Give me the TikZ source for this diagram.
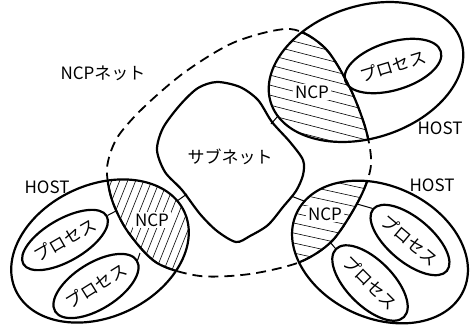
\documentclass[tikz,border=0pt]{standalone}
\usepackage{fontspec}
\newfontfamily\jpfont{Noto Sans CJK JP}
\usetikzlibrary{shapes.geometric}

\tikzset{
  contorno/.style={line width=1.1pt},
  tracejado/.style={line width=0.9pt,dash pattern=on 5pt off 3pt},
  hachura/.style={line width=0.3pt},
  ligacao/.style={line width=0.5pt},
  rotulo/.style={font=\jpfont\fontsize{8.5pt}{10pt}\selectfont,inner sep=1pt},
  processo/.style={rotulo,draw,contorno,ellipse,inner sep=0pt},
  %posicao dos hosts
  hosta/.style={shift={(366,72)},rotate=18},
  hostb/.style={shift={(100,251)},rotate=25},
  hostc/.style={shift={(380,252)},rotate=-25},
}

%contorno da rede NCP
\newcommand{\redencp}{plot[smooth cycle] coordinates {(290,29) (325,48) (350,88) (366,130) (371,165) (360,198) (333,240) (300,262) (250,274) (200,276) (157,263) (128,232) (112,200) (107,168) (117,138) (143,108) (185,72) (235,42)}}

\begin{document}
\begin{tikzpicture}[x=0.5pt,y=-0.5pt]
  \useasboundingbox (0,0) rectangle (472,327);

  %hachuras dos NCP
  \begin{scope}
    \clip[hosta] (0,0) ellipse [x radius=100,y radius=66];
    \clip \redencp;
    \foreach \k in {-2,...,15}
      \draw[hachura] (250,10*\k) -- ++(140,36);
  \end{scope}
  \begin{scope}
    \clip[hostb] (0,0) ellipse [x radius=93,y radius=66];
    \clip \redencp;
    \foreach \k in {0,...,17}
      \draw[hachura] (60+8*\k,290) -- ++(50,-125);
  \end{scope}
  \begin{scope}
    \clip[hostc] (0,0) ellipse [x radius=92,y radius=66];
    \clip \redencp;
    \foreach \k in {15,...,27}
      \draw[hachura] (280,10*\k) -- ++(100,22);
  \end{scope}

  \node[rotulo,fill=white] (ncpa) at (312,92) {NCP};
  \node[rotulo,fill=white] (ncpb) at (152,220) {NCP};
  \node[rotulo,fill=white] (ncpc) at (325,214) {NCP};

  %rede NCP (cheia dentro dos hosts)
  \draw[tracejado] \redencp;
  \begin{scope}
    \clip[hosta] (0,0) ellipse [x radius=100,y radius=66];
    \draw[contorno] \redencp;
  \end{scope}
  \begin{scope}
    \clip[hostb] (0,0) ellipse [x radius=93,y radius=66];
    \draw[contorno] \redencp;
  \end{scope}
  \begin{scope}
    \clip[hostc] (0,0) ellipse [x radius=92,y radius=66];
    \draw[contorno] \redencp;
  \end{scope}

  %hosts
  \draw[contorno,hosta] (0,0) ellipse [x radius=100,y radius=66];
  \draw[contorno,hostb] (0,0) ellipse [x radius=93,y radius=66];
  \draw[contorno,hostc] (0,0) ellipse [x radius=92,y radius=66];

  %processos
  \node[processo,rotate=17,minimum width=50pt,minimum height=24pt] (pa) at (393,66) {プロセス};
  \node[processo,rotate=30,minimum width=45pt,minimum height=21pt] (pb1) at (65,240) {プロセス};
  \node[processo,rotate=32,minimum width=45pt,minimum height=23pt] (pb2) at (96,286) {プロセス};
  \node[processo,rotate=-40,minimum width=45pt,minimum height=22pt] (pc1) at (410,240) {プロセス};
  \node[processo,rotate=-45,minimum width=47pt,minimum height=23pt] (pc2) at (370,283) {プロセス};

  %sub-rede
  \draw[contorno] plot[smooth cycle] coordinates {(217,82) (240,87) (258,100) (272,122) (290,142) (303,160) (303,175) (296,191) (283,207) (268,225) (250,236) (236,242) (217,231) (200,214) (182,190) (165,172) (157,150) (163,128) (180,105) (198,88)};
  \node[rotulo] (sub) at (230,157) {サブネット};

  %ligacoes
  \coordinate (sa) at (271,124);
  \coordinate (ha) at (278,116);
  \coordinate (sb) at (187,194);
  \coordinate (hb) at (177,201);
  \coordinate (sc) at (291,196);
  \coordinate (hc) at (304,201);
  \coordinate (jb1) at (116,211);
  \coordinate (jb2) at (140,253);
  \coordinate (jc1) at (357,204);
  \coordinate (jc2) at (330,242);

  \draw[ligacao] (sa) -- (ha);
  \draw[ligacao] (sb) -- (hb);
  \draw[ligacao] (sc) -- (hc);
  \draw[ligacao] (pb1.east) -- (jb1);
  \draw[ligacao] (pb2.east) -- (jb2);
  \draw[ligacao] (pc1.west) -- (jc1);
  \draw[ligacao] (pc2.west) -- (jc2);

  %rotulos
  \node[rotulo] (rede) at (103,73) {NCPネット};
  \node[rotulo] (hta) at (440,128) {HOST};
  \node[rotulo] (htb) at (47,187) {HOST};
  \node[rotulo] (htc) at (432,185) {HOST};
\end{tikzpicture}
\end{document}
